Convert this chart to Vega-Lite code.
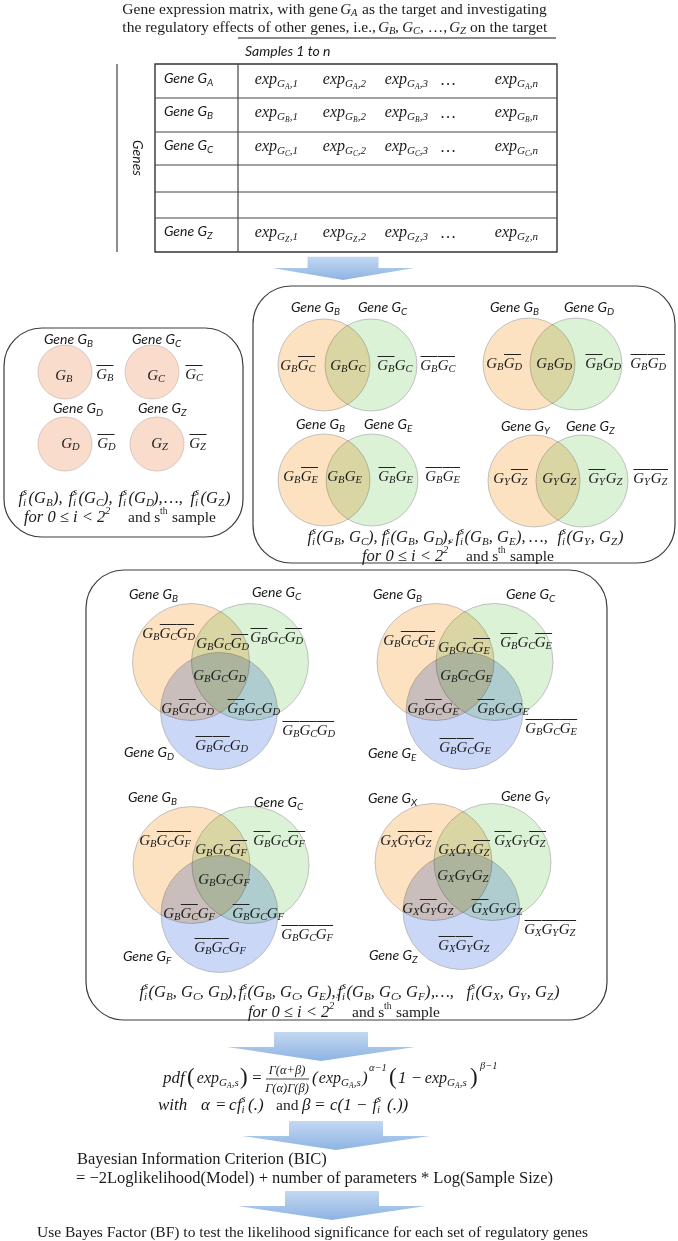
{
"$schema":"https://vega.github.io/schema/vega-lite/v6.json",
"width":678,"height":1241,"autosize":{"type":"none"},"padding":0,"background":"#ffffff",
"config":{"view":{"stroke":null}},
"encoding":{
"x":{"field":"x","type":"quantitative","scale":{"domain":[0,678],"nice":false,"zero":false},"axis":null},
"y":{"field":"y","type":"quantitative","scale":{"domain":[0,1241],"nice":false,"zero":false,"reverse":true},"axis":null}
},
"datasets":{
"boxes":[{"x":4,"x2":243,"y":328,"y2":537},{"x":253,"x2":675,"y":286,"y2":563},{"x":86,"x2":607,"y":570,"y2":1020}],
"tablebox":[{"x":155,"x2":557,"y":64,"y2":252}],
"rules":[{"x":155,"x2":557,"y":98,"y2":98},{"x":155,"x2":557,"y":132,"y2":132},{"x":155,"x2":557,"y":165,"y2":165},{"x":155,"x2":557,"y":192,"y2":192},{"x":155,"x2":557,"y":218,"y2":218},{"x":238,"x2":238,"y":64,"y2":252},{"x":117,"x2":117,"y":64,"y2":252},{"x":266,"x2":309,"y":1079,"y2":1079}],
"under":[{"x":238,"x2":556,"y":38,"y2":38}],
"circles":[
{"x":65,"y":372,"c":"peach","g":"one"},{"x":152,"y":372,"c":"peach","g":"one"},{"x":65,"y":444,"c":"peach","g":"one"},{"x":157,"y":444,"c":"peach","g":"one"},
{"x":324,"y":365,"c":"orange","g":"two"},{"x":371,"y":365,"c":"green","g":"two"},
{"x":529,"y":364,"c":"orange","g":"two"},{"x":576,"y":364,"c":"green","g":"two"},
{"x":324,"y":480,"c":"orange","g":"two"},{"x":372,"y":480,"c":"green","g":"two"},
{"x":534,"y":481,"c":"orange","g":"two"},{"x":582,"y":481,"c":"green","g":"two"},
{"x":191,"y":662,"c":"orange","g":"three"},{"x":250,"y":662,"c":"green","g":"three"},{"x":219,"y":711,"c":"blue","g":"three"},
{"x":435.5,"y":662,"c":"orange","g":"three"},{"x":494.5,"y":662,"c":"green","g":"three"},{"x":464.5,"y":711,"c":"blue","g":"three"},
{"x":191.5,"y":865,"c":"orange","g":"three"},{"x":250.5,"y":865,"c":"green","g":"three"},{"x":219.5,"y":914,"c":"blue","g":"three"},
{"x":433.5,"y":862,"c":"orange","g":"three"},{"x":492.5,"y":862,"c":"green","g":"three"},{"x":461.5,"y":911,"c":"blue","g":"three"}
],
"arrows":[{"x":343,"y":268,"k":"s"},{"x":321,"y":1047,"k":"l"},{"x":336,"y":1136,"k":"l"},{"x":332,"y":1206,"k":"l"}],
"units":[
{"x":351,"y":9,"s":"A"},{"x":389,"y":27,"s":"B"},{"x":413,"y":27,"s":"C"},{"x":460,"y":27,"s":"Z"},
{"x":66,"y":375,"s":"B"},{"x":107,"y":374,"s":"B","o":1},{"x":158,"y":375,"s":"C"},{"x":196,"y":374,"s":"C","o":1},
{"x":72,"y":443,"s":"D"},{"x":108,"y":443,"s":"D","o":1},{"x":162,"y":443,"s":"Z"},{"x":200,"y":443,"s":"Z","o":1},
{"x":291,"y":365,"s":"B"},{"x":308.5,"y":365,"s":"C","o":1},{"x":341,"y":365,"s":"B"},{"x":358.5,"y":365,"s":"C"},
{"x":388,"y":365,"s":"B","o":1},{"x":405.5,"y":365,"s":"C"},{"x":431,"y":365,"s":"B","o":1},{"x":448.5,"y":365,"s":"C","o":1},
{"x":497,"y":363,"s":"B"},{"x":514.5,"y":363,"s":"D","o":1},{"x":547,"y":363,"s":"B"},{"x":564.5,"y":363,"s":"D"},
{"x":596,"y":363,"s":"B","o":1},{"x":613.5,"y":363,"s":"D"},{"x":641,"y":363,"s":"B","o":1},{"x":658.5,"y":363,"s":"D","o":1},
{"x":294,"y":476,"s":"B"},{"x":311.5,"y":476,"s":"E","o":1},{"x":338,"y":476,"s":"B"},{"x":355.5,"y":476,"s":"E"},
{"x":389,"y":476,"s":"B","o":1},{"x":406.5,"y":476,"s":"E"},{"x":436,"y":476,"s":"B","o":1},{"x":453.5,"y":476,"s":"E","o":1},
{"x":504,"y":478,"s":"Y"},{"x":521.5,"y":478,"s":"Z","o":1},{"x":553,"y":478,"s":"Y"},{"x":570.5,"y":478,"s":"Z"},
{"x":599,"y":478,"s":"Y","o":1},{"x":616.5,"y":478,"s":"Z"},{"x":644,"y":478,"s":"Y","o":1},{"x":661.5,"y":478,"s":"Z","o":1},
{"x":153,"y":633,"s":"B"},{"x":170.3,"y":633,"s":"C","o":1},{"x":187.6,"y":633,"s":"D","o":1},
{"x":207,"y":643,"s":"B"},{"x":224.3,"y":643,"s":"C"},{"x":241.6,"y":643,"s":"D","o":1},
{"x":261,"y":637,"s":"B","o":1},{"x":278.3,"y":637,"s":"C"},{"x":295.6,"y":637,"s":"D","o":1},
{"x":204,"y":675,"s":"B"},{"x":221.3,"y":675,"s":"C"},{"x":238.6,"y":675,"s":"D"},
{"x":172,"y":708,"s":"B"},{"x":189.3,"y":708,"s":"C","o":1},{"x":206.6,"y":708,"s":"D"},
{"x":238,"y":708,"s":"B","o":1},{"x":255.3,"y":708,"s":"C"},{"x":272.6,"y":708,"s":"D"},
{"x":293,"y":730,"s":"B","o":1},{"x":310.3,"y":730,"s":"C","o":1},{"x":327.6,"y":730,"s":"D","o":1},
{"x":206,"y":745,"s":"B","o":1},{"x":223.3,"y":745,"s":"C","o":1},{"x":240.6,"y":745,"s":"D"},
{"x":394,"y":640,"s":"B"},{"x":411.3,"y":640,"s":"C","o":1},{"x":428.6,"y":640,"s":"E","o":1},
{"x":449,"y":647,"s":"B"},{"x":466.3,"y":647,"s":"C"},{"x":483.6,"y":647,"s":"E","o":1},
{"x":511,"y":642,"s":"B","o":1},{"x":528.3,"y":642,"s":"C"},{"x":545.6,"y":642,"s":"E","o":1},
{"x":451,"y":675,"s":"B"},{"x":468.3,"y":675,"s":"C"},{"x":485.6,"y":675,"s":"E"},
{"x":418,"y":708,"s":"B"},{"x":435.3,"y":708,"s":"C","o":1},{"x":452.6,"y":708,"s":"E"},
{"x":488,"y":708,"s":"B","o":1},{"x":505.3,"y":708,"s":"C"},{"x":522.6,"y":708,"s":"E"},
{"x":536,"y":728,"s":"B","o":1},{"x":553.3,"y":728,"s":"C","o":1},{"x":570.6,"y":728,"s":"E","o":1},
{"x":450,"y":747,"s":"B","o":1},{"x":467.3,"y":747,"s":"C","o":1},{"x":484.6,"y":747,"s":"E"},
{"x":150,"y":840,"s":"B"},{"x":167.3,"y":840,"s":"C","o":1},{"x":184.6,"y":840,"s":"F","o":1},
{"x":206,"y":849,"s":"B"},{"x":223.3,"y":849,"s":"C"},{"x":240.6,"y":849,"s":"F","o":1},
{"x":264,"y":840,"s":"B","o":1},{"x":281.3,"y":840,"s":"C"},{"x":298.6,"y":840,"s":"F","o":1},
{"x":209,"y":879,"s":"B"},{"x":226.3,"y":879,"s":"C"},{"x":243.6,"y":879,"s":"F"},
{"x":174,"y":913,"s":"B"},{"x":191.3,"y":913,"s":"C","o":1},{"x":208.6,"y":913,"s":"F"},
{"x":243,"y":913,"s":"B","o":1},{"x":260.3,"y":913,"s":"C"},{"x":277.6,"y":913,"s":"F"},
{"x":292,"y":934,"s":"B","o":1},{"x":309.3,"y":934,"s":"C","o":1},{"x":326.6,"y":934,"s":"F","o":1},
{"x":205,"y":947,"s":"B","o":1},{"x":222.3,"y":947,"s":"C","o":1},{"x":239.6,"y":947,"s":"F"},
{"x":391,"y":840,"s":"X"},{"x":408.3,"y":840,"s":"Y","o":1},{"x":425.6,"y":840,"s":"Z","o":1},
{"x":449,"y":849,"s":"X"},{"x":466.3,"y":849,"s":"Y"},{"x":483.6,"y":849,"s":"Z","o":1},
{"x":505,"y":840,"s":"X","o":1},{"x":522.3,"y":840,"s":"Y"},{"x":539.6,"y":840,"s":"Z","o":1},
{"x":448,"y":875,"s":"X"},{"x":465.3,"y":875,"s":"Y"},{"x":482.6,"y":875,"s":"Z"},
{"x":413,"y":908,"s":"X"},{"x":430.3,"y":908,"s":"Y","o":1},{"x":447.6,"y":908,"s":"Z"},
{"x":482,"y":908,"s":"X","o":1},{"x":499.3,"y":908,"s":"Y"},{"x":516.6,"y":908,"s":"Z"},
{"x":535,"y":929,"s":"X","o":1},{"x":552.3,"y":929,"s":"Y","o":1},{"x":569.6,"y":929,"s":"Z","o":1},
{"x":449,"y":945,"s":"X","o":1},{"x":466.3,"y":945,"s":"Y","o":1},{"x":483.6,"y":945,"s":"Z"}
],
"mp":[
{"x":23,"y":498,"m":"f","s":"i","p":"s"},{"x":46,"y":498,"m":"(G","s":"B"},
{"x":73,"y":498,"m":"f","s":"i","p":"s"},{"x":96,"y":498,"m":"(G","s":"C"},
{"x":123,"y":498,"m":"f","s":"i","p":"s"},{"x":146,"y":498,"m":"(G","s":"D"},
{"x":195,"y":498,"m":"f","s":"i","p":"s"},{"x":218,"y":498,"m":"(G","s":"Z"},
{"x":312,"y":537,"m":"f","s":"i","p":"s"},{"x":334,"y":537,"m":"(G","s":"B"},{"x":361,"y":537,"m":", G","s":"C"},
{"x":386,"y":537,"m":"f","s":"i","p":"s"},{"x":408,"y":537,"m":"(G","s":"B"},{"x":435,"y":537,"m":", G","s":"D"},
{"x":460,"y":537,"m":"f","s":"i","p":"s"},{"x":482,"y":537,"m":"(G","s":"B"},{"x":509,"y":537,"m":", G","s":"E"},
{"x":562,"y":537,"m":"f","s":"i","p":"s"},{"x":584,"y":537,"m":"(G","s":"Y"},{"x":611,"y":537,"m":", G","s":"Z"},
{"x":144,"y":992,"m":"f","s":"i","p":"s"},{"x":166,"y":992,"m":"(G","s":"B"},{"x":193,"y":992,"m":", G","s":"C"},{"x":220,"y":992,"m":", G","s":"D"},
{"x":243,"y":992,"m":"f","s":"i","p":"s"},{"x":265,"y":992,"m":"(G","s":"B"},{"x":292,"y":992,"m":", G","s":"C"},{"x":319,"y":992,"m":", G","s":"E"},
{"x":342,"y":992,"m":"f","s":"i","p":"s"},{"x":364,"y":992,"m":"(G","s":"B"},{"x":391,"y":992,"m":", G","s":"C"},{"x":418,"y":992,"m":", G","s":"F"},
{"x":471,"y":992,"m":"f","s":"i","p":"s"},{"x":493,"y":992,"m":"(G","s":"X"},{"x":520,"y":992,"m":", G","s":"Y"},{"x":547,"y":992,"m":", G","s":"Z"},
{"x":241.5,"y":1105,"m":"f","s":"i","p":"s"},{"x":377,"y":1105,"m":"f","s":"i","p":"s"}
],
"mt":[
{"x":53,"y":498,"t":"),","k":"m"},{"x":103,"y":498,"t":"),","k":"m"},{"x":153,"y":498,"t":"),","k":"m"},{"x":164,"y":498,"t":"…,","k":"m"},{"x":225,"y":498,"t":")","k":"m"},
{"x":368,"y":537,"t":"),","k":"m"},{"x":442,"y":537,"t":"),","k":"m"},{"x":516,"y":537,"t":"),","k":"m"},{"x":529,"y":537,"t":"…,","k":"m"},{"x":618,"y":537,"t":")","k":"m"},
{"x":227,"y":992,"t":"),","k":"m"},{"x":326,"y":992,"t":"),","k":"m"},{"x":425,"y":992,"t":")","k":"m"},{"x":431,"y":992,"t":" ,…,","k":"m"},{"x":554,"y":992,"t":")","k":"m"},
{"x":24,"y":517,"t":"for 0 ≤ i < 2","k":"m"},{"x":362,"y":556,"t":"for 0 ≤ i < 2","k":"m"},{"x":248,"y":1012,"t":"for 0 ≤ i < 2","k":"m"},
{"x":441,"y":80,"t":"…","k":"m"},{"x":441,"y":113,"t":"…","k":"m"},{"x":441,"y":147,"t":"…","k":"m"},{"x":441,"y":233,"t":"…","k":"m"},
{"x":105,"y":511,"t":"2","k":"msup"},{"x":443,"y":550,"t":"2","k":"msup"},{"x":329,"y":1006,"t":"2","k":"msup"},{"x":369,"y":1068,"t":"α−1","k":"msup"},{"x":480,"y":1066,"t":"β−1","k":"msup"},
{"x":449.5,"y":541,"t":"2","k":"msup2"},{"x":336,"y":996,"t":"3","k":"msup2"},
{"x":163,"y":1078,"t":"pdf","k":"mb"},{"x":251,"y":1078,"t":"=","k":"mb"},{"x":312,"y":1078,"t":"(","k":"mb"},{"x":362,"y":1078,"t":")","k":"mb"},{"x":398,"y":1078,"t":"1 −","k":"mb"},
{"x":158,"y":1105,"t":"with","k":"mb"},{"x":201,"y":1105,"t":"α","k":"mb"},{"x":215,"y":1105,"t":"=","k":"mb"},{"x":229,"y":1105,"t":"c","k":"mb"},{"x":248,"y":1105,"t":"(.)","k":"mb"},
{"x":302,"y":1105,"t":"β","k":"mb"},{"x":314,"y":1105,"t":"=","k":"mb"},{"x":330,"y":1105,"t":"c(1 −","k":"mb"},{"x":387,"y":1105,"t":"(.))","k":"mb"},
{"x":187,"y":1077,"t":"(","k":"mbig"},{"x":240,"y":1077,"t":")","k":"mbig"},{"x":389,"y":1077,"t":"(","k":"mbig"},{"x":470,"y":1077,"t":")","k":"mbig"},
{"x":287,"y":1070,"t":"Γ(α+β)","k":"mfrac"},{"x":287,"y":1088,"t":"Γ(α)Γ(β)","k":"mfrac"}
],
"tt":[
{"x":338,"y":9,"t":"Gene expression matrix, with gene","k":"tr"},
{"x":376,"y":27,"t":"the regulatory effects of other genes, i.e.,","k":"tr"},
{"x":362,"y":9,"t":"as the target and investigating","k":"t"},
{"x":395,"y":27,"t":",","k":"t"},{"x":420,"y":27,"t":", …,","k":"t"},{"x":470,"y":27,"t":"on the target","k":"t"},
{"x":128,"y":517,"t":"and s","k":"t"},{"x":172,"y":517,"t":"sample","k":"t"},
{"x":466,"y":556,"t":"and s","k":"t"},{"x":510,"y":556,"t":"sample","k":"t"},
{"x":352,"y":1012,"t":"and s","k":"t"},{"x":396,"y":1012,"t":"sample","k":"t"},
{"x":276,"y":1105,"t":"and","k":"t"},
{"x":37,"y":1232,"t":"Use Bayes Factor (BF) to test the likelihood significance  for each set of regulatory genes","k":"t"},
{"x":160,"y":511,"t":"th","k":"tsup"},{"x":498,"y":550,"t":"th","k":"tsup"},{"x":384,"y":1006,"t":"th","k":"tsup"},
{"x":77,"y":1159,"t":"Bayesian Information Criterion (BIC)","k":"tb"},
{"x":76,"y":1178,"t":"= −2Loglikelihood(Model) + number of parameters * Log(Sample Size)","k":"tb"}
],
"cp":[
{"x":207,"y":79,"s":"A"},{"x":207,"y":112,"s":"B"},{"x":207,"y":146,"s":"C"},{"x":207,"y":232,"s":"Z"},
{"x":87,"y":340,"s":"B"},{"x":175,"y":340,"s":"C"},{"x":96,"y":409,"s":"D"},{"x":181,"y":409,"s":"Z"},
{"x":334,"y":308,"s":"B"},{"x":401,"y":308,"s":"C"},{"x":533,"y":308,"s":"B"},{"x":607,"y":308,"s":"D"},
{"x":339,"y":425,"s":"B"},{"x":407,"y":425,"s":"E"},{"x":544,"y":427,"s":"Y"},{"x":609,"y":427,"s":"Z"},
{"x":172,"y":595,"s":"B"},{"x":295,"y":593,"s":"C"},{"x":416,"y":595,"s":"B"},{"x":549,"y":595,"s":"C"},
{"x":167,"y":753,"s":"D"},{"x":411,"y":754,"s":"E"},
{"x":171,"y":798,"s":"B"},{"x":297,"y":803,"s":"C"},{"x":411,"y":799,"s":"X"},{"x":544,"y":797,"s":"Y"},
{"x":166,"y":957,"s":"F"},{"x":412,"y":956,"s":"Z"}
],
"ex":[
{"x":277,"y":79,"g":"A","c":",1"},{"x":345,"y":79,"g":"A","c":",2"},{"x":407,"y":79,"g":"A","c":",3"},{"x":517,"y":79,"g":"A","c":",n"},
{"x":277,"y":112,"g":"B","c":",1"},{"x":345,"y":112,"g":"B","c":",2"},{"x":407,"y":112,"g":"B","c":",3"},{"x":517,"y":112,"g":"B","c":",n"},
{"x":277,"y":146,"g":"C","c":",1"},{"x":345,"y":146,"g":"C","c":",2"},{"x":407,"y":146,"g":"C","c":",3"},{"x":517,"y":146,"g":"C","c":",n"},
{"x":277,"y":232,"g":"Z","c":",1"},{"x":345,"y":232,"g":"Z","c":",2"},{"x":407,"y":232,"g":"Z","c":",3"},{"x":517,"y":232,"g":"Z","c":",n"},
{"x":219,"y":1078,"g":"A","c":",s"},{"x":341,"y":1078,"g":"A","c":",s"},{"x":447,"y":1078,"g":"A","c":",s"}
],
"ct":[{"x":245,"y":52,"t":"Samples 1 to n","k":"h"},{"x":137,"y":158,"t":"Genes","k":"v"}]
},
"layer":[
{"data":{"name":"boxes"},"mark":{"type":"rect","filled":false,"cornerRadius":38,"stroke":"#3c3c3c","strokeWidth":1.2},"encoding":{"x2":{"field":"x2"},"y2":{"field":"y2"}}},
{"data":{"name":"tablebox"},"mark":{"type":"rect","filled":false,"stroke":"#333333","strokeWidth":1.4},"encoding":{"x2":{"field":"x2"},"y2":{"field":"y2"}}},
{"data":{"name":"rules"},"mark":{"type":"rule","stroke":"#444444","strokeWidth":1.2},"encoding":{"x2":{"field":"x2"},"y2":{"field":"y2"}}},
{"data":{"name":"under"},"mark":{"type":"rule","stroke":"#8a8a8a","strokeWidth":2},"encoding":{"x2":{"field":"x2"},"y2":{"field":"y2"}}},
{"data":{"name":"circles"},"transform":[{"filter":"datum.g === 'one'"}],"mark":{"type":"point","shape":"circle","filled":true,"opacity":1,"size":2916,"stroke":"#cdbfb8","strokeWidth":0.8},
 "encoding":{"color":{"field":"c","type":"nominal","scale":{"domain":["peach","orange","green","blue"],"range":["#f9dccc","#fde2c2","#dcf2d6","#cbd7f7"]},"legend":null}}},
{"data":{"name":"circles"},"transform":[{"filter":"datum.g === 'two'"}],"mark":{"type":"point","shape":"circle","filled":true,"opacity":1,"size":8464,"stroke":"#b4b4b4","strokeWidth":0.8,"blend":"multiply"},
 "encoding":{"color":{"field":"c","type":"nominal","scale":{"domain":["peach","orange","green","blue"],"range":["#f9dccc","#fde2c2","#dcf2d6","#cbd7f7"]},"legend":null}}},
{"data":{"name":"circles"},"transform":[{"filter":"datum.g === 'three'"}],"mark":{"type":"point","shape":"circle","filled":true,"opacity":1,"size":13689,"stroke":"#b4b4b4","strokeWidth":0.8,"blend":"multiply"},
 "encoding":{"color":{"field":"c","type":"nominal","scale":{"domain":["peach","orange","green","blue"],"range":["#f9dccc","#fde2c2","#dcf2d6","#cbd7f7"]},"legend":null}}},
{"data":{"name":"arrows"},"transform":[{"filter":"datum.k === 's'"}],"mark":{"type":"point","shape":"M-0.5,-0.16L0.5,-0.16L0.5,0L1,0L0,0.17L-1,0L-0.5,0Z","filled":true,"opacity":1,"size":20164,"strokeWidth":0,
 "fill":{"gradient":"linear","x1":0,"y1":0,"x2":0,"y2":1,"stops":[{"offset":0,"color":"#c3d8f1"},{"offset":1,"color":"#8db3e2"}]}}},
{"data":{"name":"arrows"},"transform":[{"filter":"datum.k === 'l'"}],"mark":{"type":"point","shape":"M-0.5,-0.16L0.5,-0.16L0.5,0L1,0L0,0.15L-1,0L-0.5,0Z","filled":true,"opacity":1,"size":35344,"strokeWidth":0,
 "fill":{"gradient":"linear","x1":0,"y1":0,"x2":0,"y2":1,"stops":[{"offset":0,"color":"#c3d8f1"},{"offset":1,"color":"#8db3e2"}]}}},
{"data":{"name":"units"},"transform":[{"filter":"datum.o === 1"}],"mark":{"type":"rule","stroke":"#222222","strokeWidth":1,"xOffset":-10.5,"x2Offset":6.5,"yOffset":-8.5},"encoding":{"x2":{"field":"x"}}},
{"data":{"name":"units"},"mark":{"type":"text","align":"right","baseline":"middle","font":"Liberation Serif","fontStyle":"italic","fontSize":15,"color":"#1a1a1a"},"encoding":{"text":{"value":"G"}}},
{"data":{"name":"units"},"mark":{"type":"text","align":"left","baseline":"middle","font":"Liberation Serif","fontStyle":"italic","fontSize":10.5,"dy":4,"color":"#1a1a1a"},"encoding":{"text":{"field":"s"}}},
{"data":{"name":"mp"},"mark":{"type":"text","align":"right","baseline":"middle","font":"Liberation Serif","fontStyle":"italic","fontSize":16.5,"color":"#1a1a1a"},"encoding":{"text":{"field":"m"}}},
{"data":{"name":"mp"},"mark":{"type":"text","align":"left","baseline":"middle","font":"Liberation Serif","fontStyle":"italic","fontSize":11,"dy":4.5,"color":"#1a1a1a"},"encoding":{"text":{"field":"s"}}},
{"data":{"name":"mp"},"transform":[{"filter":"isValid(datum.p)"}],"mark":{"type":"text","align":"left","baseline":"middle","font":"Liberation Serif","fontStyle":"italic","fontSize":10.5,"dy":-6.5,"color":"#1a1a1a"},"encoding":{"text":{"field":"p"}}},
{"data":{"name":"mt"},"transform":[{"filter":"datum.k === 'm'"}],"mark":{"type":"text","align":"left","baseline":"middle","font":"Liberation Serif","fontStyle":"italic","fontSize":16.5,"color":"#1a1a1a"},"encoding":{"text":{"field":"t"}}},
{"data":{"name":"mt"},"transform":[{"filter":"datum.k === 'msup'"}],"mark":{"type":"text","align":"left","baseline":"middle","font":"Liberation Serif","fontStyle":"italic","fontSize":10.5,"color":"#1a1a1a"},"encoding":{"text":{"field":"t"}}},
{"data":{"name":"mt"},"transform":[{"filter":"datum.k === 'msup2'"}],"mark":{"type":"text","align":"left","baseline":"middle","font":"Liberation Serif","fontStyle":"italic","fontSize":7,"color":"#1a1a1a"},"encoding":{"text":{"field":"t"}}},
{"data":{"name":"mt"},"transform":[{"filter":"datum.k === 'mb'"}],"mark":{"type":"text","align":"left","baseline":"middle","font":"Liberation Serif","fontStyle":"italic","fontSize":17,"color":"#1a1a1a"},"encoding":{"text":{"field":"t"}}},
{"data":{"name":"mt"},"transform":[{"filter":"datum.k === 'mbig'"}],"mark":{"type":"text","align":"left","baseline":"middle","font":"Liberation Serif","fontSize":23,"color":"#1a1a1a"},"encoding":{"text":{"field":"t"}}},
{"data":{"name":"mt"},"transform":[{"filter":"datum.k === 'mfrac'"}],"mark":{"type":"text","align":"center","baseline":"middle","font":"Liberation Serif","fontStyle":"italic","fontSize":12.5,"color":"#1a1a1a"},"encoding":{"text":{"field":"t"}}},
{"data":{"name":"tt"},"transform":[{"filter":"datum.k === 't'"}],"mark":{"type":"text","align":"left","baseline":"middle","font":"Liberation Serif","fontSize":15.5,"color":"#1a1a1a"},"encoding":{"text":{"field":"t"}}},
{"data":{"name":"tt"},"transform":[{"filter":"datum.k === 'tr'"}],"mark":{"type":"text","align":"right","baseline":"middle","font":"Liberation Serif","fontSize":15.5,"color":"#1a1a1a"},"encoding":{"text":{"field":"t"}}},
{"data":{"name":"tt"},"transform":[{"filter":"datum.k === 'tsup'"}],"mark":{"type":"text","align":"left","baseline":"middle","font":"Liberation Serif","fontSize":9.5,"color":"#1a1a1a"},"encoding":{"text":{"field":"t"}}},
{"data":{"name":"tt"},"transform":[{"filter":"datum.k === 'tb'"}],"mark":{"type":"text","align":"left","baseline":"middle","font":"Liberation Serif","fontSize":16.5,"color":"#1a1a1a"},"encoding":{"text":{"field":"t"}}},
{"data":{"name":"cp"},"mark":{"type":"text","align":"right","baseline":"middle","font":"Lato","fontStyle":"italic","fontSize":14,"color":"#1a1a1a"},"encoding":{"text":{"value":"Gene G"}}},
{"data":{"name":"cp"},"mark":{"type":"text","align":"left","baseline":"middle","font":"Lato","fontStyle":"italic","fontSize":10,"dy":3.5,"color":"#1a1a1a"},"encoding":{"text":{"field":"s"}}},
{"data":{"name":"ex"},"mark":{"type":"text","align":"right","baseline":"middle","font":"Liberation Serif","fontStyle":"italic","fontSize":16,"color":"#1a1a1a"},"encoding":{"text":{"value":"exp"}}},
{"data":{"name":"ex"},"mark":{"type":"text","align":"left","baseline":"middle","font":"Liberation Serif","fontStyle":"italic","fontSize":11,"dy":5,"color":"#1a1a1a"},"encoding":{"text":{"value":"G"}}},
{"data":{"name":"ex"},"mark":{"type":"text","align":"left","baseline":"middle","font":"Liberation Serif","fontStyle":"italic","fontSize":7.5,"dx":8,"dy":8,"color":"#1a1a1a"},"encoding":{"text":{"field":"g"}}},
{"data":{"name":"ex"},"mark":{"type":"text","align":"left","baseline":"middle","font":"Liberation Serif","fontStyle":"italic","fontSize":11,"dx":12.8,"dy":5,"color":"#1a1a1a"},"encoding":{"text":{"field":"c"}}},
{"data":{"name":"ct"},"transform":[{"filter":"datum.k === 'h'"}],"mark":{"type":"text","align":"left","baseline":"middle","font":"Lato","fontStyle":"italic","fontSize":14,"color":"#1a1a1a"},"encoding":{"text":{"field":"t"}}},
{"data":{"name":"ct"},"transform":[{"filter":"datum.k === 'v'"}],"mark":{"type":"text","align":"center","baseline":"middle","angle":90,"font":"Lato","fontStyle":"italic","fontSize":14,"color":"#1a1a1a"},"encoding":{"text":{"field":"t"}}}
]
}
